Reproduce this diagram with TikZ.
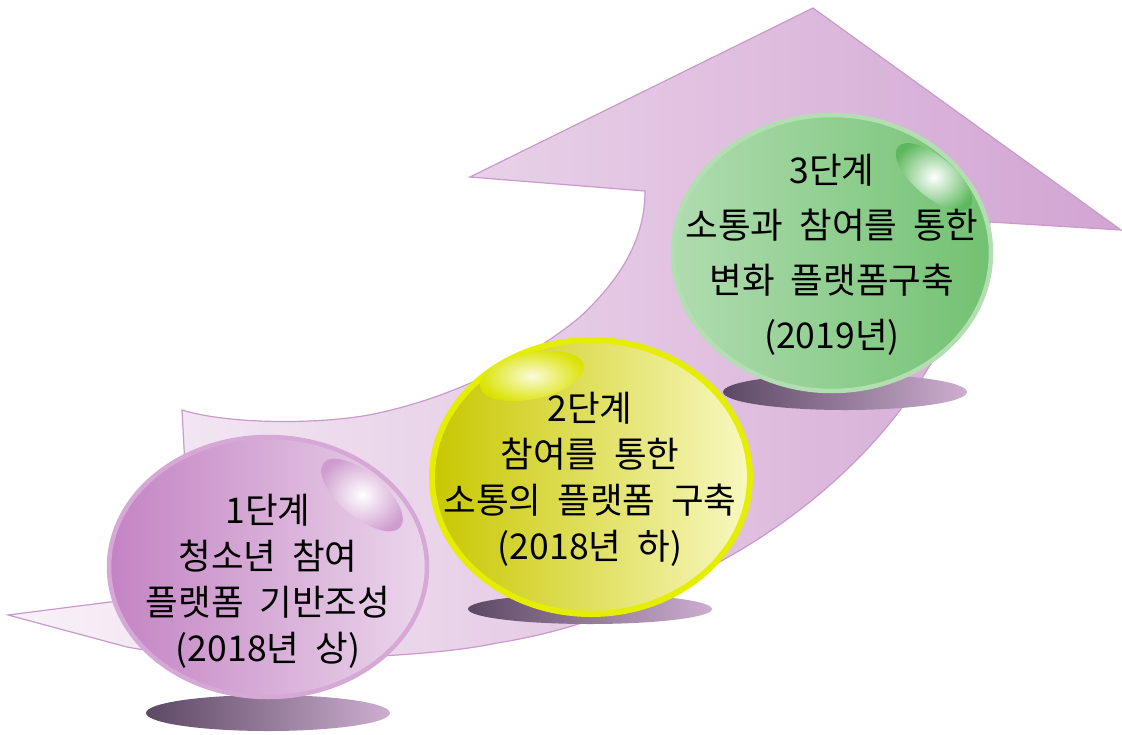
\documentclass[tikz,border=0pt]{standalone}
\usepackage{fontspec}
\newfontfamily\kr[WordSpace=2.0]{Noto Sans CJK KR}
\definecolor{arrowL}{HTML}{F8F2F8}
\definecolor{arrowR}{HTML}{D2A4D2}
\definecolor{arrowline}{HTML}{C99ACB}
\definecolor{shL}{HTML}{5C4864}
\definecolor{shR}{HTML}{CDAED0}
\definecolor{pL}{HTML}{C383C3}
\definecolor{pR}{HTML}{EBD6EB}
\definecolor{pB}{HTML}{D6A8D6}
\definecolor{yL}{HTML}{C8C700}
\definecolor{yR}{HTML}{F8F8C2}
\definecolor{yB}{HTML}{E6EE00}
\definecolor{gL}{HTML}{B0DCB0}
\definecolor{gR}{HTML}{72C172}
\definecolor{gB}{HTML}{B2DEB2}
\definecolor{gH}{HTML}{5CB85C}
\begin{document}
\begin{tikzpicture}[x=1pt,y=1pt,
  arrowbody/.style={draw=arrowline, line width=1.2pt, left color=arrowL, right color=arrowR},
  shadowell/.style={left color=shL, right color=shR},
  lbl/.style={font=\kr\fontsize{35.5}{46}\selectfont, align=center, text=black, inner sep=0pt}]
\useasboundingbox (0,0) rectangle (1122,-734);

% curved arrow
\path[arrowbody] (8,-615) -- (110,-602) -- (192,-596) -- (182,-410)
  .. controls (230,-425) and (330,-425) .. (383,-412)
  .. controls (470,-392) and (540,-350) .. (580,-317)
  .. controls (625,-275) and (645,-235) .. (645,-191)
  -- (470,-177) -- (813,-8) -- (1121,-230) -- (990,-222)
  .. controls (985,-280) and (960,-320) .. (927,-370)
  .. controls (880,-450) and (800,-520) .. (710,-567)
  .. controls (650,-600) and (580,-630) .. (497,-643)
  .. controls (420,-660) and (220,-665) .. (127,-647)
  -- cycle;

% shadows
\path[shadowell] (268,-713) ellipse (122 and 18);
\path[shadowell] (590,-609) ellipse (122 and 15);
\path[shadowell] (845,-392) ellipse (122 and 18);

% sphere 3 (green)
\path[draw=gB, line width=4.5pt, left color=gL, right color=gR] (832,-253) ellipse (159 and 138);
\begin{scope}[shift={(934,-177)}, rotate=-40]
  \shade[inner color=white, outer color=gH] (0,0) ellipse (47 and 20);
\end{scope}

% sphere 2 (yellow)
\path[draw=yB, line width=6pt, left color=yL, right color=yR] (591,-477) ellipse (159 and 137);
\begin{scope}[shift={(532,-376)}, rotate=12]
  \shade[inner color=yR!60!white, outer color=yB!95!black] (0,0) ellipse (53 and 23);
\end{scope}

% sphere 1 (purple)
\path[draw=pB, line width=4.5pt, left color=pL, right color=pR] (268,-567) ellipse (159 and 130);
\begin{scope}[shift={(362,-495)}, rotate=-40]
  \shade[inner color=white, outer color=pL!80!white] (0,0) ellipse (50 and 22);
\end{scope}

% labels
\node[lbl] (t1) at (268,-581) {1단계\\청소년 참여\\플랫폼 기반조성\\(2018년 상)};
\node[lbl] (t2) at (590,-479) {2단계\\참여를 통한\\소통의 플랫폼 구축\\(2018년 하)};
\node[lbl, font=\kr\fontsize{35.5}{55}\selectfont] (t3) at (832,-255) {3단계\\소통과 참여를 통한\\변화 플랫폼구축\\(2019년)};
\end{tikzpicture}
\end{document}
